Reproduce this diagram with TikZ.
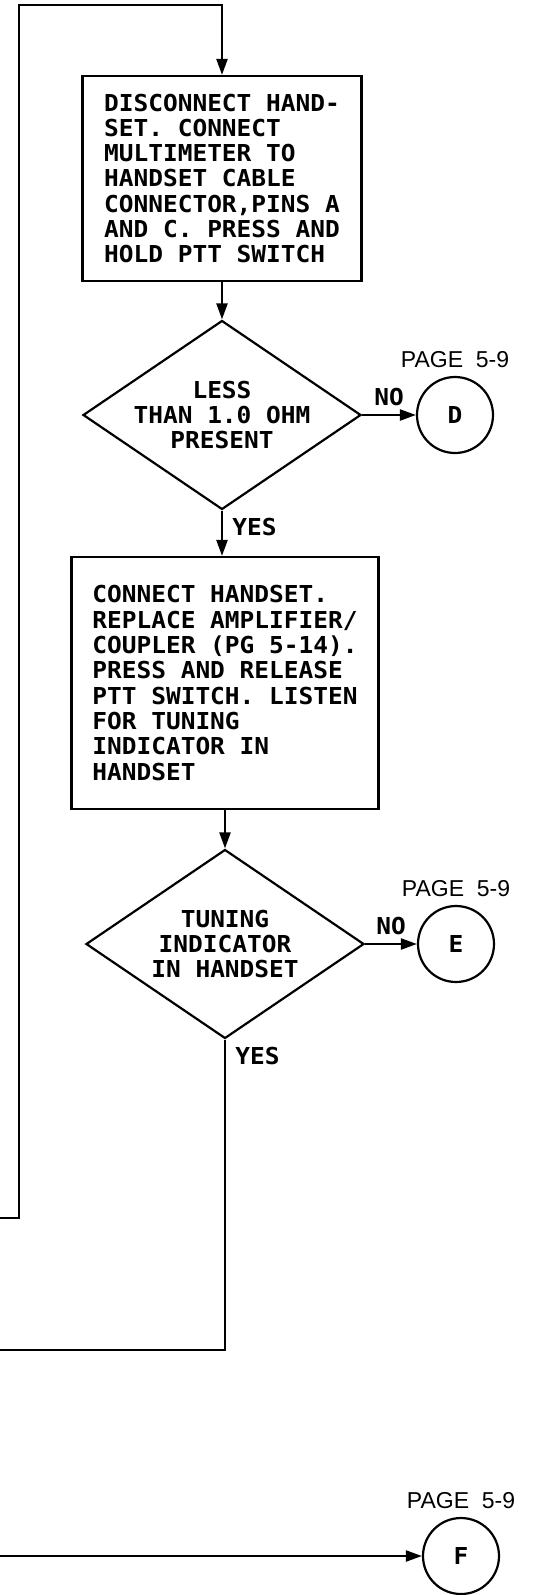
\documentclass[tikz,border=0pt]{standalone}
\usepackage{fontspec}
\setmainfont{Liberation Sans}
\newfontfamily\leroy[FakeStretch=1.05]{DejaVu Sans Mono}
\newcommand{\chartfont}{\leroy\bfseries\fontsize{11.66pt}{12.65pt}\selectfont}
\usetikzlibrary{shapes.geometric,arrows.meta,positioning}

\begin{document}
\begin{tikzpicture}[x=0.5pt,y=-0.5pt,
  flowline/.style={line width=1.1pt},
  flowarrow/.style={flowline,-{Triangle[length=8pt,width=5.5pt]}},
  stepbox/.style={draw,line width=1.1pt,align=left,font=\chartfont,inner sep=0pt},
  decision/.style={diamond,aspect=1.47,draw,line width=1.1pt,align=center,font=\chartfont,
    inner sep=0pt,minimum width=139pt,minimum height=94.5pt},
  offpage/.style={circle,draw,line width=1.1pt,font=\chartfont,minimum size=38pt,inner sep=0pt},
  pagelabel/.style={font=\fontsize{11.5pt}{13pt}\selectfont,inner sep=0pt},
  flowlabel/.style={font=\chartfont,inner sep=0pt}]
\useasboundingbox (0,0) rectangle (538,1595);

\coordinate (loopin) at (0,1218);
\coordinate (loopup) at (19,5);
\coordinate (yesout) at (0,1350);
\coordinate (fin) at (0,1556);

\node[stepbox,minimum width=139.5pt,minimum height=102.5pt] (disconnect) at (222,178.5)
  {DISCONNECT HAND-\\SET. CONNECT\\MULTIMETER TO\\HANDSET CABLE\\CONNECTOR,PINS A\\AND C. PRESS AND\\HOLD PTT SWITCH};
\node[decision] (less) at (222,415) {LESS\\THAN 1.0 OHM\\PRESENT};
\node[offpage] (D) at (455,415) {D};
\node[pagelabel,above=4pt of D] (pageD) {PAGE\ \ 5-9};

\node[stepbox,minimum width=153.5pt,minimum height=126pt] (replace) at (225,683)
  {CONNECT HANDSET.\\REPLACE AMPLIFIER/\\COUPLER (PG 5-14).\\PRESS AND RELEASE\\PTT SWITCH. LISTEN\\FOR TUNING\\INDICATOR IN\\HANDSET};
\node[decision] (tuning) at (225,944) {TUNING\\INDICATOR\\IN HANDSET};
\node[offpage] (E) at (456,944) {E};
\node[pagelabel,above=4pt of E] (pageE) {PAGE\ \ 5-9};

\node[offpage] (F) at (461,1556) {F};
\node[pagelabel,above=4pt of F] (pageF) {PAGE\ \ 5-9};

% loop back in from the left
\draw[flowarrow] (loopin) -| (loopup) -| (disconnect.north);
\draw[flowarrow] (disconnect.south) -- (less.north);
\draw[flowarrow] (less.east) -- node[flowlabel,above=4pt] (noD) {NO} (D.west);
\draw[flowarrow] (less.south) -- (less.south |- replace.north);
\node[flowlabel,below right=3.5pt and 5pt of less.south] (yesD) {YES};

\draw[flowarrow] (replace.south) -- (tuning.north);
\draw[flowarrow] (tuning.east) -- node[flowlabel,above=4pt] (noE) {NO} (E.west);
\draw[flowline] (tuning.south) |- (yesout);
\node[flowlabel,below right=3.5pt and 5pt of tuning.south] (yesE) {YES};

\draw[flowarrow] (fin) -- (F.west);

\end{tikzpicture}
\end{document}
